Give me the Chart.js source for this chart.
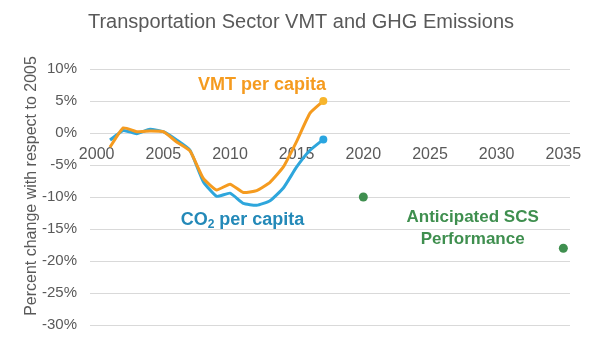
<!DOCTYPE html>
<html>
<head>
<meta charset="utf-8">
<script src="https://cdn.jsdelivr.net/npm/chart.js@4.4.1/dist/chart.umd.min.js"></script>
<style>
  html, body { margin: 0; padding: 0; background: #fff; }
  #wrap { width: 600px; height: 353px; }
</style>
</head>
<body>
<div id="wrap"><canvas id="chart" width="600" height="353"></canvas></div>
<script>
// ---------- data ----------
const years = [2001, 2002, 2003, 2004, 2005, 2006, 2007, 2008, 2009, 2010, 2011, 2012, 2013, 2014, 2015, 2016, 2017];
const vmtPerCapita = [-2.2, 0.8, 0.2, 0.3, 0.2, -1.4, -2.8, -7.1, -8.9, -8.0, -9.3, -9.0, -7.7, -5.3, -1.3, 3.1, 5.0];
const co2PerCapita = [-1.1, 0.4, -0.1, 0.6, 0.2, -1.1, -2.7, -7.6, -9.9, -9.4, -11.0, -11.3, -10.6, -8.6, -5.3, -2.7, -1.0];
const scsYears = [2020, 2035];
const scsTargets = [-10, -18];
const xTickYears = [2000, 2005, 2010, 2015, 2020, 2025, 2030, 2035];

const GRAY = '#595959';
const ORANGE = '#f59b1f';
const BLUE = '#2ea6dc';
const GREEN = '#3f8f4f';
const FONT = 'Arial, "Liberation Sans", sans-serif';

function toPoints(xs, ys) {
  return xs.map(function (x, i) { return { x: x, y: ys[i] }; });
}

// 只在最后一个点画圆点
function lastOnly(r) {
  return function (ctx) { return ctx.dataIndex === ctx.dataset.data.length - 1 ? r : 0; };
}

// ---------- 文字标注 ----------
const labelsPlugin = {
  id: 'labels',
  afterDraw: function (chart) {
    const c = chart.ctx;
    const xs = chart.scales.x, ys = chart.scales.y;
    c.save();
    c.textBaseline = 'middle';

    // 图表标题
    c.fillStyle = GRAY;
    c.textAlign = 'center';
    c.font = '20px ' + FONT;
    c.fillText('Transportation Sector VMT and GHG Emissions', 301, 22);

    // y 轴标题
    c.save();
    c.translate(32, 186);
    c.rotate(-Math.PI / 2);
    c.font = '16px ' + FONT;
    c.fillText('Percent change with respect to 2005', 0, 0);
    c.restore();

    // VMT per capita
    c.fillStyle = ORANGE;
    c.font = 'bold 18px ' + FONT;
    c.fillText('VMT per capita', xs.getPixelForValue(2012.4), ys.getPixelForValue(7.5));

    // CO2 per capita（下标 2）
    c.fillStyle = '#2389b8';
    c.textAlign = 'left';
    const bx = xs.getPixelForValue(2006.3), by = ys.getPixelForValue(-13.6);
    c.font = 'bold 18px ' + FONT;
    c.fillText('CO', bx, by);
    let w = c.measureText('CO').width;
    c.font = 'bold 12px ' + FONT;
    c.fillText('2', bx + w, by + 5);
    w += c.measureText('2').width;
    c.font = 'bold 18px ' + FONT;
    c.fillText(' per capita', bx + w, by);

    // Anticipated SCS Performance
    c.fillStyle = GREEN;
    c.textAlign = 'center';
    c.font = 'bold 17px ' + FONT;
    c.fillText('Anticipated SCS', xs.getPixelForValue(2028.2), ys.getPixelForValue(-13.1));
    c.fillText('Performance', xs.getPixelForValue(2028.2), ys.getPixelForValue(-16.6));
    c.restore();
  }
};

new Chart(document.getElementById('chart').getContext('2d'), {
  type: 'line',
  data: {
    datasets: [
      {
        label: 'VMT per capita',
        data: toPoints(years, vmtPerCapita),
        borderColor: ORANGE,
        borderWidth: 3,
        tension: 0.15,
        pointRadius: lastOnly(4),
        pointBackgroundColor: '#f7b52c',
        pointBorderWidth: 0,
      },
      {
        label: 'CO2 per capita',
        data: toPoints(years, co2PerCapita),
        borderColor: BLUE,
        borderWidth: 3,
        tension: 0.15,
        pointRadius: lastOnly(4),
        pointBackgroundColor: '#29a5e0',
        pointBorderWidth: 0,
      },
      {
        label: 'Anticipated SCS Performance',
        data: toPoints(scsYears, scsTargets),
        showLine: false,
        pointRadius: 4.5,
        pointBackgroundColor: GREEN,
        pointBorderWidth: 0,
      },
    ],
  },
  options: {
    responsive: false,
    animation: false,
    layout: { padding: { top: 69, left: 15, right: 30, bottom: 28 } },
    plugins: {
      legend: { display: false },
      tooltip: { enabled: false },
    },
    scales: {
      x: {
        type: 'linear',
        position: { y: 0 },
        min: 1999.5,
        max: 2035.5,
        afterBuildTicks: function (scale) {
          scale.ticks = xTickYears.map(function (v) { return { value: v }; });
        },
        grid: { display: false },
        border: { display: false },
        ticks: {
          color: GRAY,
          font: { size: 16, family: FONT },
          padding: 4,
          maxRotation: 0,
          autoSkip: false,
          callback: function (v) { return String(v); },
        },
      },
      y: {
        min: -30,
        max: 10,
        afterFit: function (scale) { scale.width = 75; },
        grid: { color: '#d9d9d9', drawTicks: false },
        border: { display: false },
        ticks: {
          stepSize: 5,
          color: GRAY,
          padding: 13,
          font: { size: 15, family: FONT },
          callback: function (v) { return v + '%'; },
        },
      },
    },
  },
  plugins: [labelsPlugin],
});
</script>
</body>
</html>
